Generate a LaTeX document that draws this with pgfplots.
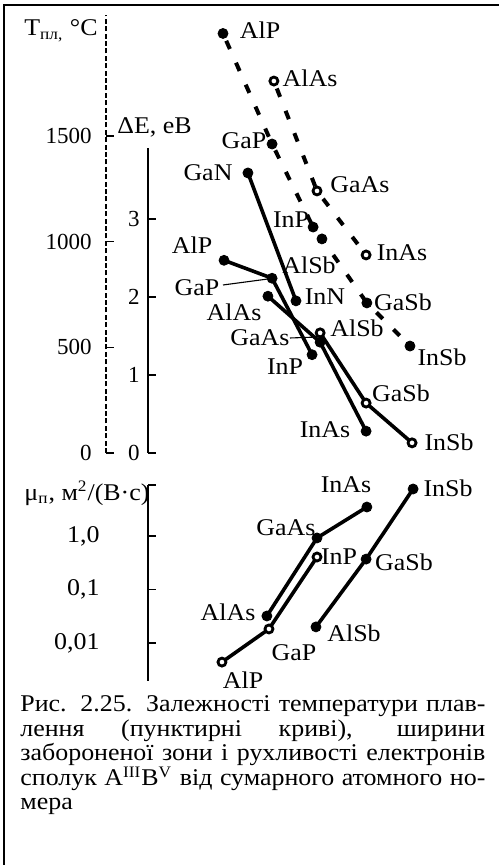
\documentclass[border=0pt]{standalone}
\usepackage{fontspec}
\setmainfont{Liberation Serif}[FakeStretch=1.08]
\newfontfamily\plainfont{Liberation Serif}
\usepackage{pgfplots}
\pgfplotsset{compat=1.18}

% picture is laid out on the 499x865 grid of the scan, 1 px = 0.5pt, y downwards
\newcommand\lab[4][]{\node[inner sep=0pt,#1] at ({(#2)*0.5pt},{(865-(#3))*0.5pt}) {#4};}
\newcommand\seg[4]{\draw[line width=0.55pt] ({(#1)*0.5pt},{(865-(#2))*0.5pt}) -- ({(#3)*0.5pt},{(865-(#4))*0.5pt});}
\newcommand\capline[2]{\lab[anchor=base west]{20}{#1}{\makebox[232.5pt][s]{#2}}}

\pgfplotsset{
  ax/.style={scale only axis, anchor=south west, clip=false,
    axis x line=none, axis y line=left, axis line style={-},
    y axis line style={-, line width=0.7pt},
    tick align=inside, major tick length=4pt,
    tick style={black, solid, line width=0.7pt},
    yminorticks=false},
  fdot/.style={black, line width=1.8pt, mark=*, mark size=2.5pt,
    mark options={solid, fill=black, line width=0.4pt}},
  odot/.style={black, line width=1.8pt, mark=*, mark size=2.0pt,
    mark options={solid, fill=white, draw=black, line width=1.4pt}},
  dash/.style={dash pattern=on 4.5pt off 7.5pt, dash phase=-4pt, line width=2pt},
}

\begin{document}
\fontsize{12}{14}\selectfont
\begin{tikzpicture}
\useasboundingbox (0,0) rectangle (249.5pt,432.5pt);
\draw[line width=1pt] (2pt,0pt) -- (2pt,430pt) -- (249.5pt,430pt);

% melting temperature (dashed)
\begin{axis}[ax, at={(53pt,206pt)}, width=196.5pt, height=219pt,
  xmin=-17.05, xmax=134.28, ymin=0, ymax=2072.5,
  ytick={0,500,1000,1500}, yticklabels={0,500,1000,1500},
  yticklabel style={font=\plainfont\fontsize{11.5}{13}\selectfont, xshift=-3pt},
  y axis line style={dash pattern=on 2.5pt off 1.2pt}]
\addplot[fdot, dash] coordinates {
  (28,1985) (46.9,1462) (62.7,1069) (66.1,1013) (83.4,710) (100,506)};
\addplot[odot, dash] coordinates {
  (47.6,1760) (64.2,1240) (83.1,937)};
\end{axis}

% band gap
\begin{axis}[ax, at={(74pt,206pt)}, width=175.5pt, height=152.5pt,
  xmin=-0.88, xmax=134.28, ymin=0, ymax=3.91,
  ytick={0,1,2,3}, yticklabels={0,1,2,3},
  yticklabel style={font=\plainfont\fontsize{11.5}{13}\selectfont}]
\addplot[fdot] coordinates {(37.6,3.59) (56.1,1.95)};
\addplot[fdot] coordinates {(28.4,2.47) (46.9,2.24) (62.3,1.26)};
\addplot[fdot] coordinates {(45.3,2.01) (65.4,1.42) (83.1,0.28)};
\addplot[odot] coordinates {(65.4,1.54) (83.1,0.64) (100.8,0.13)};
\end{axis}

% electron mobility
\begin{axis}[ax, at={(74pt,92pt)}, width=175.5pt, height=98pt,
  xmin=-0.88, xmax=134.28, ymode=log, ymin=0.00195, ymax=8.98,
  ytick={0.01,0.1,1}, yticklabels={{0,01},{0,1},{1,0}},
  extra y ticks={8.98}, extra y tick labels={},
  yticklabel style={xshift=-20pt}]
\addplot[odot] coordinates {(27.6,0.0044) (45.7,0.0183) (64.2,0.405)};
\addplot[fdot] coordinates {(44.9,0.032) (64.2,0.92) (83.4,3.48)};
\addplot[fdot] coordinates {(63.8,0.020) (83.1,0.37) (101.2,7.56)};
\end{axis}

% axis titles
\lab[anchor=west]{24}{31}{T\textsubscript{пл,} °C}
\lab[anchor=west]{117}{127}{ΔE, еВ}
\lab[anchor=west]{24}{493}{μ\textsubscript{п}, м\textsuperscript{2}/(В·с)}

% temperature labels
\lab{260}{30}{AlP}
\lab{310}{78}{AlAs}
\lab{244}{141}{GaP}
\lab{360}{185}{GaAs}
\lab{291}{220}{InP}
\lab{309}{265}{AlSb}
\lab{402}{253}{InAs}
\lab{403}{302}{GaSb}
\lab{442}{357}{InSb}

% band gap labels
\lab{208}{173}{GaN}
\lab{192}{245}{AlP}
\lab{197}{288}{GaP}
\lab{234}{312}{AlAs}
\lab{325}{297}{InN}
\lab{260}{338}{GaAs}
\lab{285}{367}{InP}
\lab{357}{328}{AlSb}
\lab{401}{393}{GaSb}
\lab{325}{430}{InAs}
\lab{449}{442}{InSb}
\seg{223}{285}{268}{279}
\seg{290}{338}{318}{337}

% mobility labels
\lab{346}{485}{InAs}
\lab{448}{488}{InSb}
\lab{286}{528}{GaAs}
\lab{339}{557}{InP}
\lab{404}{562}{GaSb}
\lab{228}{612}{AlAs}
\lab{354}{633}{AlSb}
\lab{294}{653}{GaP}
\lab{243}{680}{AlP}

% caption, one line at a time
\capline{712}{Рис. 2.25. Залежності температури плав-}
\capline{737}{лення (пунктирні криві), ширини}
\capline{761}{забороненої зони і рухливості електронів}
\capline{786}{сполук A\textsuperscript{III}B\textsuperscript{V} від сумарного атомного но-}
\lab[anchor=base west]{20}{810}{мера}
\end{tikzpicture}
\end{document}
